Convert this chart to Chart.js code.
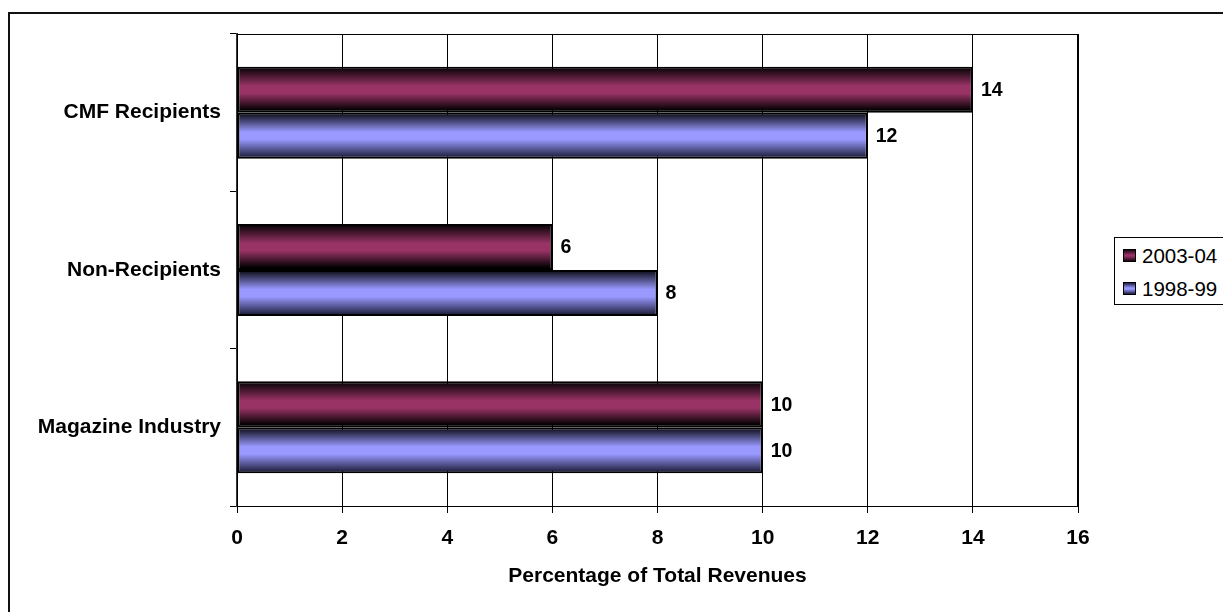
<!DOCTYPE html>
<html>
<head>
<meta charset="utf-8">
<title>Percentage of Total Revenues</title>
<script src="https://cdn.jsdelivr.net/npm/chart.js@4.4.1/dist/chart.umd.min.js"></script>
<style>
  html, body { margin: 0; padding: 0; background: #fff; overflow: hidden; }
  #wrap { position: relative; width: 1223px; height: 612px; overflow: hidden; }
  #frame {
    position: absolute; left: 8px; top: 12px; width: 1400px; height: 800px;
    border: 2px solid #111;
  }
  #chart { position: absolute; left: 0; top: 0; }
  #legend {
    position: absolute; left: 1114px; top: 237px; width: 120px; height: 66px;
    border: 1px solid #000; background: #fff;
    font-family: 'Liberation Sans', Arial, sans-serif; font-size: 20.5px; color: #000;
  }
  .row { position: absolute; left: 8px; height: 24px; line-height: 24px; white-space: nowrap; }
  .swatch {
    position: absolute; left: 0; top: 5px; width: 11px; height: 11px;
    border: 1.5px solid #000;
  }
  .row span.txt { position: absolute; left: 19px; top: 0; }
</style>
</head>
<body>
<div id="wrap">
  <div id="frame"></div>
  <canvas id="chart" width="1223" height="612"></canvas>
  <div id="legend"></div>
</div>
<script>
// Revenue share by group, two survey years
const categories = ['CMF Recipients', 'Non-Recipients', 'Magazine Industry'];
const seriesLabels = ['2003-04', '1998-99'];
const share0304 = [14, 6, 10];
const share9899 = [12, 8, 10];

const X_MIN = 0;
const X_MAX = 16;
const X_STEP = 2;

// Shading stops: dark edges, bright middle (cylinder look)
const STOPS = [
  [[0, '#000000'], [0.42, '#993366'], [0.58, '#993366'], [0.95, '#000000'], [1, '#000000']],
  [[0, '#06060e'], [0.42, '#9999ff'], [0.58, '#9999ff'], [1, '#15152c']]
];
const FLAT = ['#993366', '#9999ff'];

const CAT_PCT = 0.585;
const FONT = "'Liberation Sans', Arial, sans-serif";

/**
 * Vertical gradient for one bar, computed from the category scale so it
 * follows the bar's band inside its category slot.
 */
function barFill(ctx) {
  const chart = ctx.chart;
  const ds = ctx.datasetIndex;
  const yScale = chart.scales && chart.scales.y;
  if (!chart.chartArea || !yScale || ctx.type !== 'data') return FLAT[ds];

  const center = yScale.getPixelForValue(ctx.dataIndex);
  const slot = Math.abs(yScale.getPixelForValue(1) - yScale.getPixelForValue(0));
  const thick = slot * CAT_PCT / 2;
  const top = center - thick + ds * thick;

  const g = chart.ctx.createLinearGradient(0, top, 0, top + thick);
  for (const [off, col] of STOPS[ds]) g.addColorStop(off, col);
  return g;
}

/** Border round the plot area (top and right edges). */
const plotFrame = {
  id: 'plotFrame',
  beforeDatasetsDraw(chart) {
    const { ctx, chartArea: a } = chart;
    ctx.save();
    ctx.strokeStyle = '#000';
    ctx.lineWidth = 1;
    ctx.strokeRect(a.left + 0.5, a.top + 0.5, a.right - a.left - 1, a.bottom - a.top);
    ctx.restore();
  }
};

/** Value printed just past the end of each bar. */
const valueLabels = {
  id: 'valueLabels',
  afterDatasetsDraw(chart) {
    const ctx = chart.ctx;
    ctx.save();
    ctx.font = `bold 19.5px ${FONT}`;
    ctx.fillStyle = '#000';
    ctx.textAlign = 'left';
    ctx.textBaseline = 'middle';
    chart.data.datasets.forEach((ds, i) => {
      chart.getDatasetMeta(i).data.forEach((bar, j) => {
        ctx.fillText(String(ds.data[j]), bar.x + 8, bar.y + 1);
      });
    });
    ctx.restore();
  }
};

const barStyle = {
  categoryPercentage: CAT_PCT,
  barPercentage: 1,
  backgroundColor: barFill,
  borderColor: '#000',
  borderWidth: 2,
  borderSkipped: false
};

new Chart(document.getElementById('chart'), {
  type: 'bar',
  data: {
    labels: categories,
    datasets: [
      { label: seriesLabels[0], data: share0304, ...barStyle },
      { label: seriesLabels[1], data: share9899, ...barStyle }
    ]
  },
  options: {
    indexAxis: 'y',
    responsive: false,
    animation: false,
    events: [],
    layout: { padding: { top: 34, right: 145, bottom: 0, left: 0 } },
    scales: {
      x: {
        min: X_MIN,
        max: X_MAX,
        afterFit: s => { s.height = 106; },
        ticks: {
          stepSize: X_STEP,
          padding: 13,
          color: '#000',
          font: { family: FONT, size: 21, weight: 'bold' }
        },
        grid: { color: '#000', lineWidth: 1, tickLength: 7, drawTicks: true },
        border: { color: '#000', width: 1 },
        title: {
          display: true,
          text: 'Percentage of Total Revenues',
          color: '#000',
          font: { family: FONT, size: 21, weight: 'bold' },
          padding: { top: 4, bottom: 23 }
        }
      },
      y: {
        afterFit: s => { s.width = 237; },
        ticks: {
          padding: 9,
          color: '#000',
          font: { family: FONT, size: 21, weight: 'bold' }
        },
        grid: { drawOnChartArea: false, color: '#000', tickLength: 7 },
        border: { color: '#333', width: 2 }
      }
    },
    plugins: {
      legend: { display: false },
      tooltip: { enabled: false },
      colors: { enabled: false }
    }
  },
  plugins: [plotFrame, valueLabels]
});

// Legend box on the right edge
const legendEl = document.getElementById('legend');
const swatchCss = [
  'linear-gradient(to bottom, #1a0610, #993366 45%, #993366 55%, #1a0610)',
  'linear-gradient(to bottom, #1c1c40, #9999ff 45%, #9999ff 55%, #1c1c40)'
];
seriesLabels.forEach((name, i) => {
  const row = document.createElement('div');
  row.className = 'row';
  row.style.top = (6 + i * 33) + 'px';
  const sw = document.createElement('div');
  sw.className = 'swatch';
  sw.style.background = swatchCss[i];
  const txt = document.createElement('span');
  txt.className = 'txt';
  txt.textContent = name;
  row.appendChild(sw);
  row.appendChild(txt);
  legendEl.appendChild(row);
});
</script>
</body>
</html>
